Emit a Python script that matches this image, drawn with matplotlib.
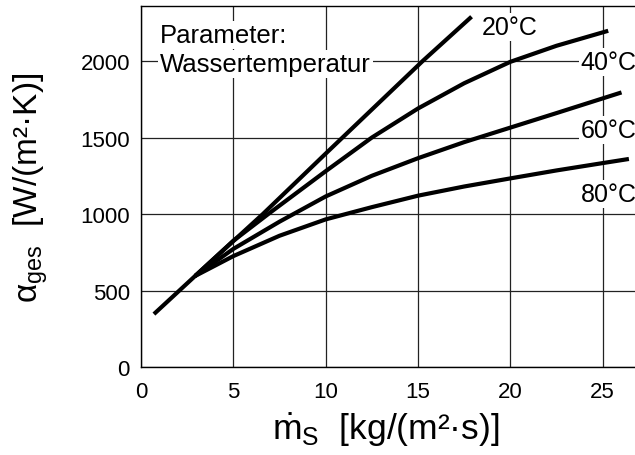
import matplotlib
matplotlib.use("Agg")
import matplotlib.pyplot as plt

# Heat transfer coefficient vs. mass flux, parameter: water temperature

plt.rcParams["font.family"] = ["Liberation Sans", "DejaVu Sans"]
plt.rcParams["mathtext.fontset"] = "custom"
plt.rcParams["mathtext.rm"] = "Liberation Sans"
plt.rcParams["mathtext.it"] = "Liberation Sans:italic"

## Data ######################################################################

x_20 = [0.7, 2.93, 6.6, 10, 15.25, 17.9]
y_20 = [346, 595, 1000, 1395, 2000, 2290]

x_40 = [2.93, 5, 7, 10, 12.5, 15, 17.5, 20, 22.5, 25.3]
y_40 = [595, 825, 1010, 1280, 1500, 1690, 1855, 1995, 2100, 2198]

x_60 = [2.93, 5, 7.5, 10, 12.5, 15, 17.5, 20, 22.5, 26.02]
y_60 = [595, 772, 950, 1115, 1250, 1365, 1470, 1565, 1660, 1795]

x_80 = [2.93, 5, 7.5, 10, 12.5, 15, 17.5, 20, 22.5, 25, 26.42]
y_80 = [595, 725, 858, 965, 1045, 1120, 1180, 1233, 1285, 1333, 1360]

curve_labels = ["20°C", "40°C", "60°C", "80°C"]
label_x = [18.45, 23.8, 23.8, 23.8]
label_y = [2176, 1945, 1505, 1087]

x_ticks = [0, 5, 10, 15, 20, 25]
y_ticks = [0, 500, 1000, 1500, 2000]

## Figure ####################################################################

fig = plt.figure(figsize=(6.35, 4.56), dpi=100)
ax = fig.add_axes([141 / 635, 88 / 456, 494 / 635, 361 / 456])

ax.set_xlim(0, 26.75)
ax.set_ylim(0, 2360)
ax.set_xticks(x_ticks)
ax.set_yticks(y_ticks)
ax.tick_params(length=0, labelsize=16)
ax.tick_params(axis="y", pad=8)
ax.tick_params(axis="x", pad=10)
ax.grid(True, color="#222222", linewidth=0.9)
ax.set_axisbelow(True)
ax.spines["right"].set_visible(False)
for sp in ["left", "bottom", "top"]:
    ax.spines[sp].set_linewidth(1.0)

for xs, ys in [(x_20, y_20), (x_40, y_40), (x_60, y_60), (x_80, y_80)]:
    ax.plot(xs, ys, color="black", linewidth=3, solid_capstyle="butt",
            solid_joinstyle="round", zorder=3)

box = dict(facecolor="white", edgecolor="none", pad=1.5)
for lab, lx, ly in zip(curve_labels, label_x, label_y):
    ax.text(lx, ly, lab, fontsize=18, ha="left", va="baseline",
            bbox=box, zorder=4, clip_on=False)

ax.text(1.03, 2122, "Parameter:", fontsize=18.5, ha="left", va="baseline",
        bbox=box, zorder=4)
ax.text(1.03, 1937, "Wassertemperatur", fontsize=18.5, ha="left", va="baseline",
        bbox=box, zorder=4)

fig.text(386 / 635, 1 - 440 / 456,
         r"$\dot{\mathrm{m}}_{\mathrm{S}}$  [kg/(m²·s)]",
         fontsize=25.5, ha="center", va="baseline")
fig.text(31 / 635, 1 - 187.5 / 456,
         r"α$_{\mathrm{ges}}$  [W/(m²·K)]",
         fontsize=24, ha="center", va="center", rotation=90)

fig.savefig("out.png", dpi=100)
